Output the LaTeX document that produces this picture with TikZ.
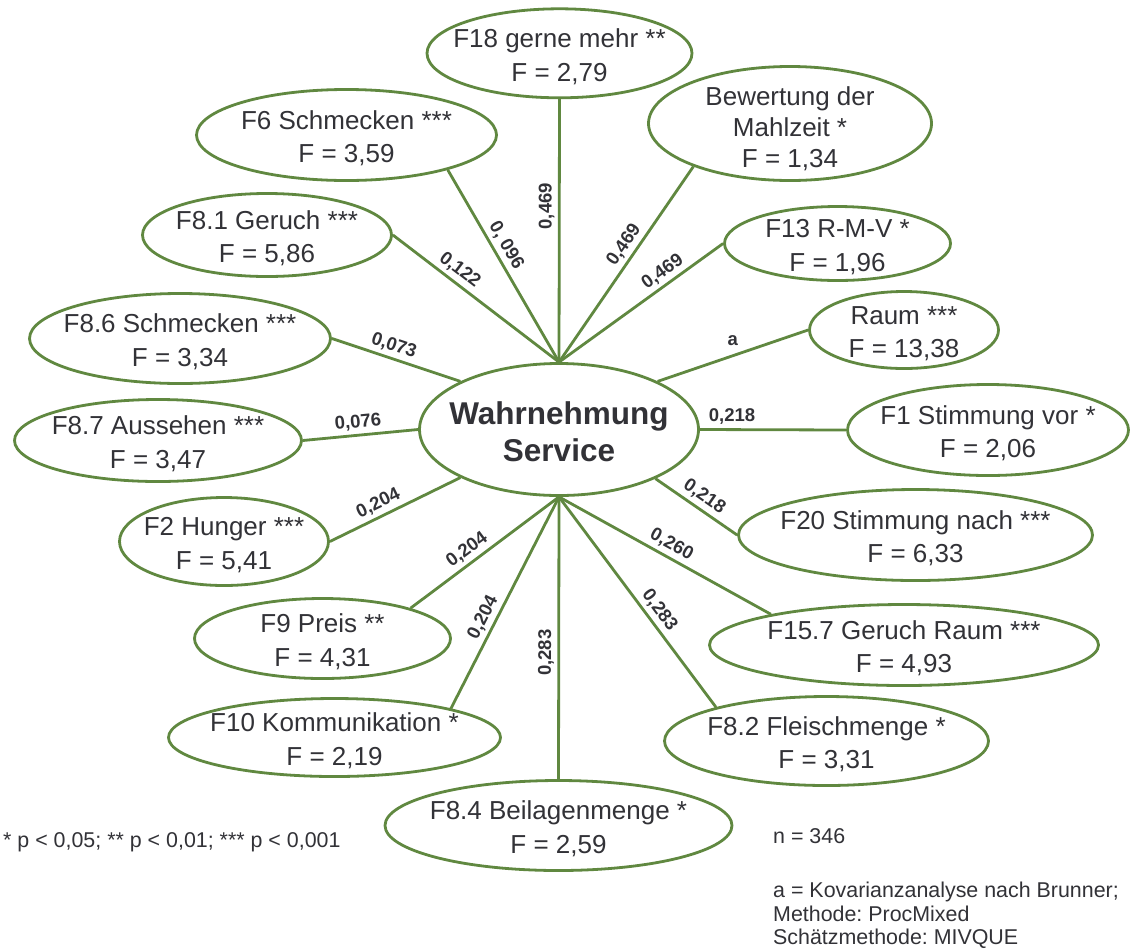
\documentclass[tikz,border=0pt]{standalone}
\usepackage{fontspec}
\setmainfont{Liberation Sans}
\usetikzlibrary{shapes.geometric}
\definecolor{lgreen}{RGB}{96,136,64}
\definecolor{tgray}{RGB}{50,50,55}
\frenchspacing
\tikzset{
  oval/.style={draw=lgreen, line width=2.8pt, ellipse, inner xsep=-45pt, inner ysep=-12pt,
    align=center, text=tgray, font=\fontsize{26}{33.5}\selectfont, text height=59pt},
  link/.style={draw=lgreen, line width=2.8pt},
  coef/.style={font=\bfseries\fontsize{18.5}{20}\selectfont, text=tgray, sloped, above,
    inner sep=3.5pt, text height=13.3pt, text depth=2.8pt},
  coefa/.style={font=\bfseries\fontsize{18.5}{20}\selectfont, text=tgray, above,
    inner sep=6pt, text height=13.3pt, text depth=2.8pt},
  note/.style={font=\fontsize{21.4}{23.5}\selectfont, text=tgray, inner sep=0pt}
}
\begin{document}
\begin{tikzpicture}[x=1pt, y=-1pt]
\fill[white] (0,0) rectangle (1131,951);
\useasboundingbox (0,0) rectangle (1131,951);

% central construct
\node[oval, minimum width=279pt, minimum height=132pt, text height=64pt,
      font=\bfseries\fontsize{31.5}{37}\selectfont] (c) at (559,429.5) {Wahrnehmung\\Service};

% surrounding items
\node[oval, minimum width=265pt, minimum height=89pt]  (f18)  at (559.5,53.3) {F18 gerne mehr **\\F = 2,79};
\node[oval, minimum width=300pt, minimum height=91pt]  (f6)   at (346.5,135)  {F6 Schmecken ***\\F = 3,59};
\node[oval, minimum width=249pt, minimum height=83pt]  (f81)  at (267,235)    {F8.1 Geruch ***\\F = 5,86};
\node[oval, minimum width=301pt, minimum height=90pt]  (f86)  at (180,338.5)  {F8.6 Schmecken ***\\F = 3,34};
\node[oval, minimum width=287pt, minimum height=82pt]  (f87)  at (158,440.5)  {F8.7 Aussehen ***\\F = 3,47};
\node[oval, minimum width=209pt, minimum height=88pt]  (f2)   at (224,541.5)  {F2 Hunger ***\\F = 5,41};
\node[oval, minimum width=256pt, minimum height=80pt]  (f9)   at (322.5,638.5) {F9 Preis **\\F = 4,31};
\node[oval, minimum width=332pt, minimum height=78pt]  (f10)  at (334.5,737.5) {F10 Kommunikation *\\F = 2,19};
\node[oval, minimum width=347pt, minimum height=90pt]  (f84)  at (558.5,825.5) {F8.4 Beilagenmenge *\\F = 2,59};
\node[oval, minimum width=324pt, minimum height=89pt]  (f82)  at (826.5,741)  {F8.2 Fleischmenge *\\F = 3,31};
\node[oval, minimum width=389pt, minimum height=81pt]  (f157) at (904,645)    {F15.7 Geruch Raum ***\\F = 4,93};
\node[oval, minimum width=354pt, minimum height=91pt]  (f20)  at (915.5,535)  {F20 Stimmung nach ***\\F = 6,33};
\node[oval, minimum width=281pt, minimum height=91pt]  (f1)   at (988,430)    {F1 Stimmung vor *\\F = 2,06};
\node[oval, minimum width=189pt, minimum height=77pt]  (raum) at (904,330)    {Raum ***\\F = 13,38};
\node[oval, minimum width=226pt, minimum height=74pt]  (f13)  at (837.5,243.5) {F13 R-M-V *\\F = 1,96};
\node[oval, minimum width=283pt, minimum height=114pt, text height=91pt,
      font=\fontsize{26}{31}\selectfont] (bew) at (790,123.5) {Bewertung der\\Mahlzeit *\\F = 1,34};

% connectors with coefficients
\draw[link] (c.north) -- node[coef, pos=.593] {0,469}  (f18.south);
\draw[link] (c.north) -- node[coef, pos=.574] {0, 096} (f6.-19);
\draw[link] (c.north) -- node[coef, pos=.644] {0,122}  (f81.east);
\draw[link] (c.154)   -- node[coef, pos=.549] {0,073}  (f86.east);
\draw[link] (c.west)  -- node[coef, pos=.511] {0,076}  (f87.east);
\draw[link] (c.206)   -- node[coef, pos=.585] {0,204}  (f2.east);
\draw[link] (c.south) -- node[coef, pos=.568] {0,204}  (f9.19);
\draw[link] (c.south) -- node[coef, pos=.597] {0,204}  (f10.14);
\draw[link] (c.south) -- node[coef, pos=.552] {0,283}  (f84.north);
\draw[link] (c.south) -- node[coef, pos=.575] {0,283}  (f82.163);
\draw[link] (c.south) -- node[coef, pos=.502] {0,260}  (f157.167);
\draw[link] (c.-27)   -- node[coef, pos=.51]  {0,218}  (f20.west);
\draw[link] (c.east)  -- node[coef, pos=.22]  {0,218}  (f1.west);
\draw[link] (c.26)    -- node[coefa, pos=.5]  {a}      (raum.west);
\draw[link] (c.north) -- node[coef, pos=.677] {0,469}  (f13.west);
\draw[link] (c.north) -- node[coef, pos=.562] {0,469}  (bew.-156);

% notes
\node[note, anchor=base west] (sig) at (3,847) {* p < 0,05; ** p < 0,01; *** p < 0,001};
\node[note, anchor=base west] (num) at (773,843) {n = 346};
\node[note, anchor=north west, align=left] (meth) at (773,882)
  {a = Kovarianzanalyse nach Brunner;\\Methode: ProcMixed\\Schätzmethode: MIVQUE};
\end{tikzpicture}
\end{document}
